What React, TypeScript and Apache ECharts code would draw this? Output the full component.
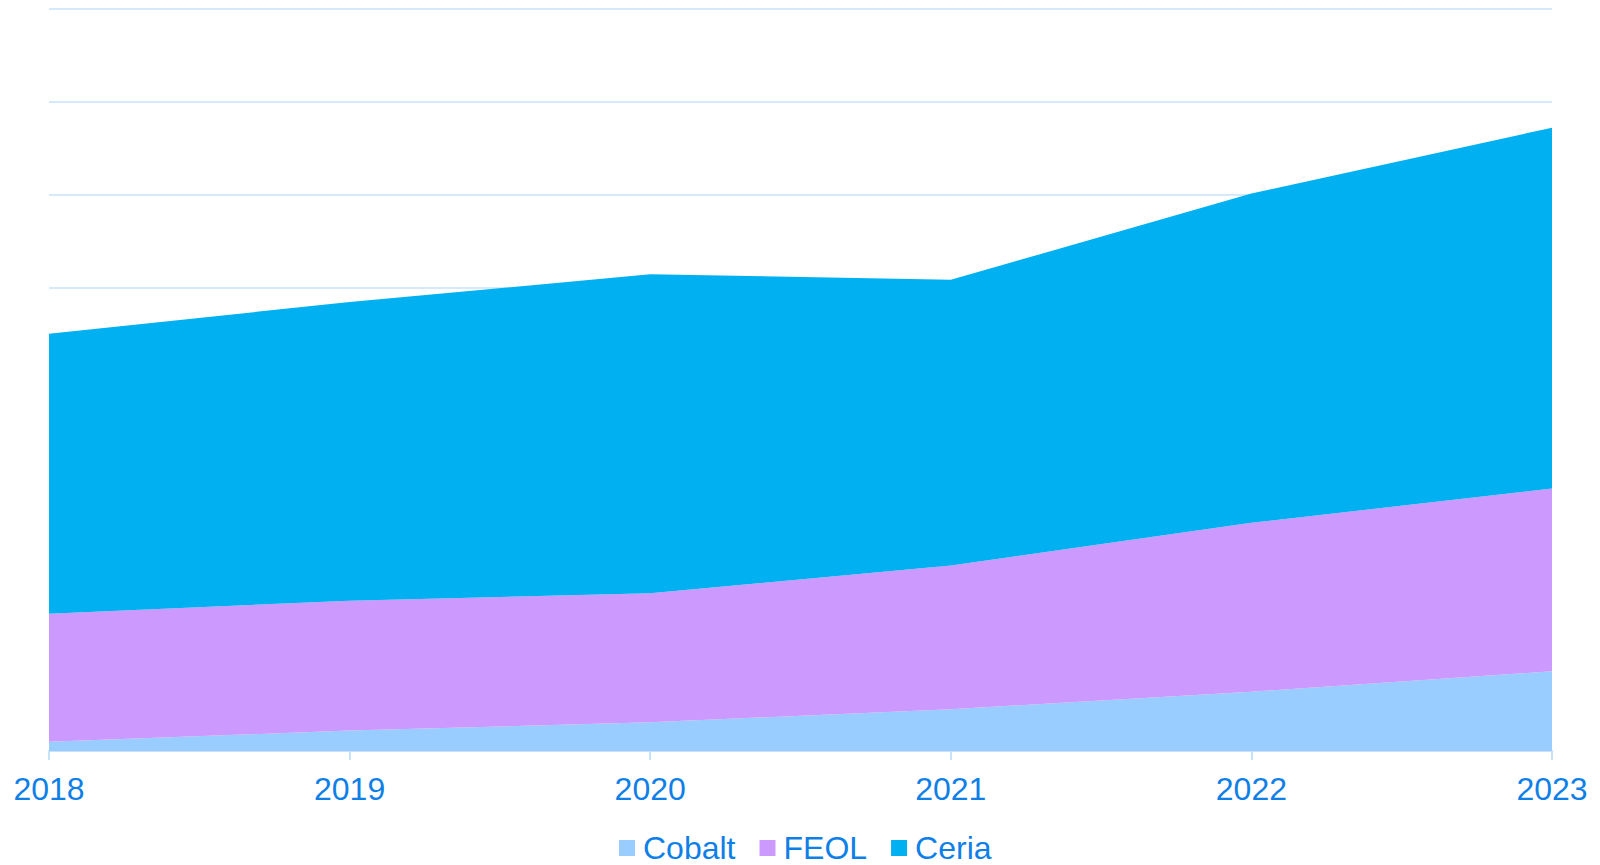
import React, { useEffect, useRef } from "react";
import * as echarts from "echarts";

const years = ["2018", "2019", "2020", "2021", "2022", "2023"];
const cobalt = [10, 22, 31, 45, 64, 86];
const feol = [138, 140, 139, 155, 182, 197];
const ceria = [302, 322, 344, 308, 355, 389];

const TEXT = "#0f7fe8";
const GRID = "#c6e2fb";

export default function App() {
  const ref = useRef<HTMLDivElement>(null);
  useEffect(() => {
    document.body.style.margin = "0";
    const chart = echarts.init(ref.current!, null, { renderer: "svg" });
    const mk = (name: string, data: number[], color: string) => ({
      name,
      type: "line",
      stack: "total",
      data,
      symbol: "none",
      lineStyle: { width: 0 },
      itemStyle: { color },
      areaStyle: { color, opacity: 1 },
    });
    chart.setOption({
      animation: false,
      textStyle: { fontFamily: "Liberation Sans, Arial, sans-serif" },
      grid: { left: 49, right: 48, top: 9, bottom: 114, containLabel: false },
      legend: {
        top: 827,
        left: 614,
        itemWidth: 16,
        itemHeight: 16,
        itemGap: 24,
        icon: "rect",
        textStyle: {
          color: TEXT,
          fontSize: 32,
          padding: [0, 0, 0, 3],
          fontFamily: "Liberation Sans, Arial, sans-serif",
        },
        data: ["Cobalt", "FEOL", "Ceria"],
      },
      xAxis: {
        type: "category",
        data: years,
        boundaryGap: false,
        axisLine: { lineStyle: { color: GRID, width: 2 } },
        axisTick: { show: true, length: 9, lineStyle: { color: GRID, width: 2 } },
        axisLabel: { color: TEXT, fontSize: 32, margin: 22, fontFamily: "Liberation Sans, Arial, sans-serif" },
        splitLine: { show: false },
      },
      yAxis: {
        type: "value",
        min: 0,
        max: 800,
        interval: 100,
        axisLabel: { show: false },
        axisLine: { show: false },
        axisTick: { show: false },
        splitLine: { lineStyle: { color: GRID, width: 1.5 } },
      },
      series: [
        mk("Cobalt", cobalt, "#99ccff"),
        mk("FEOL", feol, "#cc99ff"),
        mk("Ceria", ceria, "#00b0f0"),
      ],
    });
    return () => chart.dispose();
  }, []);
  return <div ref={ref} style={{ width: 1600, height: 865 }} />;
}
